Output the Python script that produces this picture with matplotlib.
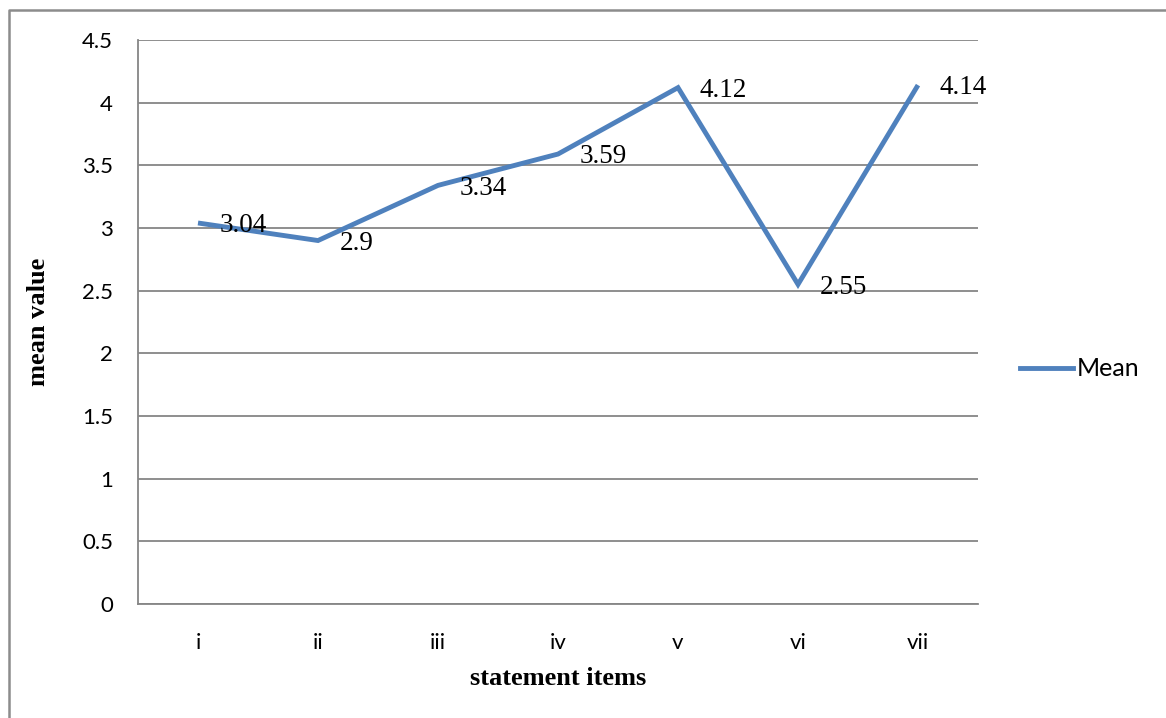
import matplotlib
matplotlib.use("Agg")
import matplotlib.pyplot as plt
from matplotlib.lines import Line2D

# statement items and their mean scores
items = ["i", "ii", "iii", "iv", "v", "vi", "vii"]
means = [3.04, 2.9, 3.34, 3.59, 4.12, 2.55, 4.14]
mean_labels = ["3.04", "2.9", "3.34", "3.59", "4.12", "2.55", "4.14"]
y_ticks = [0, 0.5, 1, 1.5, 2, 2.5, 3, 3.5, 4, 4.5]
y_tick_labels = ["0", "0.5", "1", "1.5", "2", "2.5", "3", "3.5", "4", "4.5"]

W, H = 1166, 718
line_color = "#4F81BD"
grid_color = "#868686"

fig = plt.figure(figsize=(W / 100, H / 100), dpi=100)
ax = fig.add_axes([138 / W, (H - 604) / H, 840 / W, 564 / H])

x = list(range(len(items)))
ax.plot(x, means, color=line_color, linewidth=3.5, solid_joinstyle="miter",
        solid_capstyle="butt", zorder=3)

for xi, yi, lab in zip(x, means, mean_labels):
    ax.annotate(lab, (xi, yi), xytext=(15.5, -2), textcoords="offset points",
                ha="left", va="center", fontsize=19.5, family="Liberation Serif",
                color="black", zorder=4)

ax.set_xlim(-0.5, len(items) - 0.5)
ax.set_ylim(0, 4.5)
ax.set_yticks(y_ticks)
ax.set_yticklabels(y_tick_labels)
ax.set_xticks(x)
ax.set_xticklabels(items)
ax.tick_params(axis="both", length=0, labelsize=16)
ax.tick_params(axis="y", pad=18)
ax.tick_params(axis="x", pad=21)
for lbl in ax.get_xticklabels() + ax.get_yticklabels():
    lbl.set_family("Lato")

ax.grid(axis="y", color=grid_color, linewidth=1.3)
ax.set_axisbelow(True)
for side in ["top", "right"]:
    ax.spines[side].set_visible(False)
for side in ["left", "bottom"]:
    ax.spines[side].set_color(grid_color)
    ax.spines[side].set_linewidth(1.3)

ax.set_xlabel("statement items", fontsize=19, fontweight="bold",
              family="Liberation Serif", labelpad=10)
ax.set_ylabel("mean value", fontsize=19, fontweight="bold",
              family="Liberation Serif", labelpad=23)

# legend entry to the right of the plot
fig.add_artist(Line2D([1020 / W, 1073 / W], [(H - 368) / H] * 2,
                      color=line_color, linewidth=3.5, transform=fig.transFigure))
fig.text(1077 / W, (H - 368) / H, "Mean", ha="left", va="center",
         fontsize=18, family="Lato")

# outer chart frame
fig.add_artist(Line2D([9 / W, 9 / W, 1.0], [0.0, (H - 10) / H, (H - 10) / H],
                      color="#8c8c8c", linewidth=1.8, transform=fig.transFigure))

fig.savefig("out.png", dpi=100)
